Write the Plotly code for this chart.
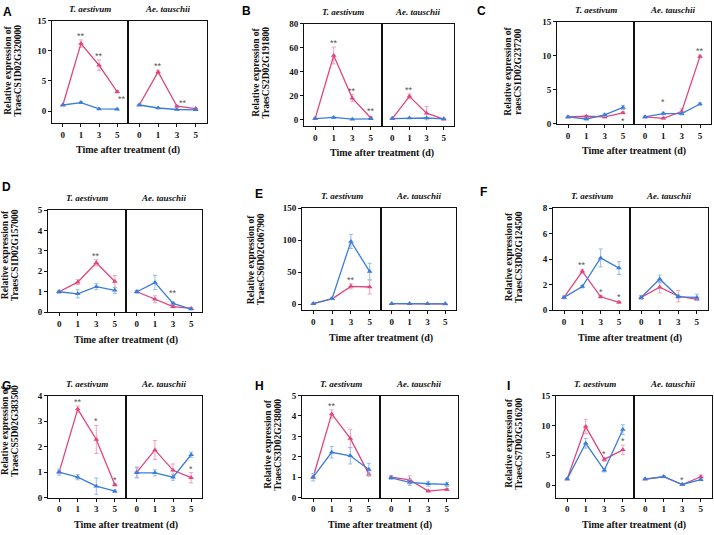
import plotly.graph_objects as go

W, H = 714, 535
PINK = '#E0457E'
BLUE = '#3B7DDB'
PINK_ERR = '#F0A0BE'
BLUE_ERR = '#93BBEE'
STAR = '#555555'
SERIF = 'Liberation Serif, Times New Roman, Tinos, DejaVu Serif, serif'
SANS = 'Liberation Sans, Arial, sans-serif'

# ---------------- data ----------------
time_labels = ['0', '1', '3', '5']
panel_letters = ['A', 'B', 'C', 'D', 'E', 'F', 'G', 'H', 'I']
species = ['T. aestivum', 'Ae. tauschii']
gene_ids = ['TraesCS1D02G320000', 'TraesCS2D02G191800', 'raesCS1D02G237200',
            'TraesCS1D02G157000', 'TraesCS6D02G067900', 'TraesCS3D02G124500',
            'TraesCS5D02G383500', 'TraesCS3D02G238000', 'TraesCS7D02G516200']

# T. aestivum, pink series
pink_aes = [[1.0, 11.2, 7.6, 3.2], [1.0, 53.5, 18.0, 1.5], [1.0, 1.1, 1.0, 1.6],
            [1.0, 1.47, 2.42, 1.5], [1.0, 8.5, 28.0, 27.0], [1.0, 3.05, 1.05, 0.62],
            [1.0, 3.47, 2.28, 0.5], [1.0, 4.1, 2.9, 1.15], [1.0, 9.8, 4.3, 5.9]]
pink_aes_err = [[0.1, 0.6, 0.9, 0.2], [0.5, 7.0, 3.0, 1.0], [0.1, 0.1, 0.15, 0.15],
                [0.05, 0.12, 0.15, 0.3], [0.5, 1.0, 4.0, 11.0], [0.1, 0.15, 0.1, 0.08],
                [0.05, 0.12, 0.55, 0.05], [0.05, 0.2, 0.45, 0.1], [0.1, 1.2, 0.3, 0.8]]
# T. aestivum, blue series
blue_aes = [[1.0, 1.4, 0.35, 0.3], [1.0, 2.0, 0.5, 0.8], [1.0, 0.7, 1.3, 2.4],
            [1.0, 0.9, 1.25, 1.07], [1.0, 9.0, 98.0, 51.0], [1.0, 1.85, 4.1, 3.3],
            [1.0, 0.8, 0.45, 0.25], [1.0, 2.22, 2.05, 1.38], [1.0, 7.0, 2.5, 9.3]]
blue_aes_err = [[0.1, 0.15, 0.1, 0.1], [0.3, 0.5, 0.3, 0.3], [0.1, 0.15, 0.25, 0.3],
                [0.08, 0.2, 0.15, 0.15], [0.5, 1.5, 11.0, 13.0], [0.1, 0.1, 0.7, 0.5],
                [0.12, 0.1, 0.32, 0.05], [0.18, 0.28, 0.4, 0.3], [0.1, 0.8, 0.3, 0.8]]
# Ae. tauschii, pink series
pink_tau = [[1.0, 6.5, 0.8, 0.4], [1.0, 19.5, 5.5, 0.5], [1.0, 0.8, 1.8, 9.9],
            [1.0, 0.63, 0.27, 0.18], [1.0, 1.0, 1.0, 0.5], [1.0, 1.8, 1.1, 0.85],
            [1.0, 1.87, 1.07, 0.78], [1.0, 0.87, 0.32, 0.4], [1.0, 1.4, 0.1, 1.4]]
pink_tau_err = [[0.1, 0.3, 0.1, 0.05], [0.5, 2.0, 5.5, 0.3], [0.1, 0.1, 0.4, 0.2],
                [0.05, 0.17, 0.05, 0.03], [0.3, 0.3, 0.3, 0.3], [0.1, 0.45, 0.45, 0.1],
                [0.2, 0.37, 0.25, 0.2], [0.08, 0.2, 0.05, 0.05], [0.1, 0.1, 0.1, 0.3]]
# Ae. tauschii, blue series
blue_tau = [[1.0, 0.5, 0.25, 0.2], [1.0, 1.5, 1.5, 0.8], [1.0, 1.5, 1.5, 2.9],
            [1.0, 1.45, 0.43, 0.15], [1.0, 1.0, 1.0, 0.8], [1.0, 2.45, 1.05, 1.0],
            [0.97, 0.97, 0.8, 1.68], [0.97, 0.75, 0.68, 0.65], [1.0, 1.4, 0.1, 0.9]]
blue_tau_err = [[0.1, 0.1, 0.05, 0.05], [0.3, 0.3, 0.3, 0.3], [0.1, 0.2, 0.2, 0.15],
                [0.08, 0.35, 0.05, 0.03], [0.3, 0.3, 0.3, 0.3], [0.15, 0.3, 0.15, 0.25],
                [0.2, 0.12, 0.12, 0.1], [0.08, 0.15, 0.12, 0.1], [0.1, 0.15, 0.1, 0.15]]

# significance marks: (panel, species half, time index, mark, series it sits on)
significance = [
    (0, 0, 1, '**', 'pink'), (0, 0, 2, '**', 'pink'), (0, 0, 3, '**', 'pink'),
    (0, 1, 1, '**', 'pink'), (0, 1, 2, '**', 'pink'),
    (1, 0, 1, '**', 'pink'), (1, 0, 2, '**', 'pink'), (1, 0, 3, '**', 'pink'),
    (1, 1, 1, '**', 'pink'),
    (2, 0, 3, '*', 'pink'), (2, 1, 1, '*', 'blue'), (2, 1, 3, '**', 'pink'),
    (3, 0, 2, '**', 'pink'), (3, 1, 2, '**', 'blue'),
    (4, 0, 2, '**', 'pink'),
    (5, 0, 1, '**', 'pink'), (5, 0, 2, '*', 'pink'), (5, 0, 3, '*', 'pink'),
    (6, 0, 1, '**', 'pink'), (6, 0, 2, '*', 'pink'), (6, 0, 3, '*', 'pink'),
    (6, 1, 3, '*', 'pink'),
    (7, 0, 1, '**', 'pink'),
    (8, 0, 2, '*', 'pink'), (8, 0, 3, '*', 'pink'), (8, 1, 2, '*', 'pink'),
]

# ---------------- layout geometry (pixels) ----------------
# left, right, top, bottom, divider
geom = [(52, 207, 16, 120, 128), (304, 454, 19, 123, 382), (557, 711, 17, 121, 634),
        (48, 202, 209, 313, 126), (302, 456, 207, 311, 381), (553, 708, 207, 311, 630),
        (48, 202, 398, 502, 126), (302, 458, 398, 502, 380), (556, 712, 398, 502, 634)]
y_ranges = [(-1.95, 15), (-4.9, 80), (0, 15), (0, 5), (-9.2, 150), (0, 8), (0, 4), (0, 5), (-2.1, 15)]
y_dticks = [5, 20, 5, 1, 50, 2, 1, 1, 5]
letter_pos = [(7, 7), (246, 6), (481, 6), (6, 185), (259, 193), (483, 191), (6, 388), (259, 388), (508, 388)]
ytitle_pos = [(13, 67), (261, 69), (513, 68), (10, 255), (256, 259), (514, 257), (10, 434), (273, 448), (514, 447)]
# special offsets for some marks (dx, dy) in px
star_offsets = {(0, 0, 3): (5, -12), (0, 1, 2): (6, -1), (2, 0, 3): (0, -13), (2, 1, 1): (0, 6),
                (3, 1, 2): (0, 5), (1, 0, 3): (0, 2)}


def px(x):
    return x / W


def py(y):
    return 1 - y / H


fig = go.Figure()
layout = {}
annotations = []

series_sets = [
    (pink_aes, pink_aes_err, blue_aes, blue_aes_err),
    (pink_tau, pink_tau_err, blue_tau, blue_tau_err),
]

for p in range(9):
    L, R, T, B, D = geom[p]
    for h in range(2):
        idx = 2 * p + h + 1
        xn = 'x' if idx == 1 else f'x{idx}'
        yn = 'y' if idx == 1 else f'y{idx}'
        xkey = 'xaxis' if idx == 1 else f'xaxis{idx}'
        ykey = 'yaxis' if idx == 1 else f'yaxis{idx}'
        x0, x1 = (L, D) if h == 0 else (D, R)
        layout[xkey] = dict(
            domain=[px(x0), px(x1)], anchor=yn, range=[-0.6, 3.6],
            tickvals=[0, 1, 2, 3], ticktext=time_labels,
            showline=True, mirror=True, linecolor='#111111', linewidth=1,
            ticks='outside', ticklen=3, tickwidth=1, tickcolor='#111111',
            tickfont=dict(family=SERIF, size=9, color='#111111', weight='bold'),
            showgrid=False, zeroline=False, fixedrange=True)
        layout[ykey] = dict(
            domain=[py(B), py(T)], anchor=xn, range=list(y_ranges[p]),
            dtick=y_dticks[p], tick0=0,
            showline=True, mirror=True, linecolor='#111111', linewidth=1,
            ticks='outside' if h == 0 else '', ticklen=3, tickwidth=1, tickcolor='#111111',
            showticklabels=(h == 0),
            tickfont=dict(family=SERIF, size=9, color='#111111', weight='bold'),
            showgrid=False, zeroline=False, fixedrange=True)

        pm, pe, bm, be = series_sets[h]
        fig.add_trace(go.Scatter(
            x=[0, 1, 2, 3], y=pm[p], xaxis=xn, yaxis=yn, mode='lines+markers',
            line=dict(color=PINK, width=1.3),
            marker=dict(symbol='triangle-up', size=5, color=PINK),
            error_y=dict(type='data', array=pe[p], color=PINK_ERR, thickness=1, width=2),
            showlegend=False, hoverinfo='skip'))
        fig.add_trace(go.Scatter(
            x=[0, 1, 2, 3], y=bm[p], xaxis=xn, yaxis=yn, mode='lines+markers',
            line=dict(color=BLUE, width=1.3),
            marker=dict(symbol='triangle-up', size=5, color=BLUE),
            error_y=dict(type='data', array=be[p], color=BLUE_ERR, thickness=1, width=2),
            showlegend=False, hoverinfo='skip'))

        # species subtitle
        annotations.append(dict(
            xref='paper', yref='paper', x=px((x0 + x1) / 2), y=py(T - 12),
            text=species[h], showarrow=False, xanchor='center', yanchor='middle',
            font=dict(family=SERIF, size=9, color='#111111', style='italic', weight='bold')))

    # panel letter
    lx, ly = letter_pos[p]
    annotations.append(dict(
        xref='paper', yref='paper', x=px(lx), y=py(ly), text=panel_letters[p],
        showarrow=False, xanchor='center', yanchor='middle',
        font=dict(family=SANS, size=12, color='#000000', weight='bold')))
    # y title (two lines)
    tx, ty = ytitle_pos[p]
    for k, line in enumerate(['Relative expression of', gene_ids[p]]):
        annotations.append(dict(
            xref='paper', yref='paper', x=px(tx - 5 + 10 * k), y=py(ty), text=line,
            showarrow=False, textangle=-90, xanchor='center', yanchor='middle',
            font=dict(family=SERIF, size=9.5, color='#111111', weight='bold')))
    # x title
    annotations.append(dict(
        xref='paper', yref='paper', x=px(D), y=py(B + 28), text='Time after treatment (d)',
        showarrow=False, xanchor='center', yanchor='middle',
        font=dict(family=SERIF, size=10, color='#111111', weight='bold')))

for (p, h, ti, mark, ser) in significance:
    idx = 2 * p + h + 1
    xn = 'x' if idx == 1 else f'x{idx}'
    yn = 'y' if idx == 1 else f'y{idx}'
    pm, pe, bm, be = series_sets[h]
    if ser == 'pink':
        yv = pm[p][ti] + pe[p][ti]
    else:
        yv = bm[p][ti] + be[p][ti]
    dx, dy = star_offsets.get((p, h, ti), (0, 0))
    annotations.append(dict(
        xref=xn, yref=yn, x=ti, y=yv, text=mark, showarrow=False,
        xanchor='center', yanchor='bottom', xshift=dx, yshift=-3 + dy,
        font=dict(family=SANS, size=9, color=STAR)))

fig.update_layout(
    width=W, height=H, margin=dict(l=0, r=0, t=0, b=0),
    paper_bgcolor='white', plot_bgcolor='white',
    font=dict(family=SERIF),
    annotations=annotations, showlegend=False, **layout)

fig.write_html('out.html', config={'displayModeBar': False, 'staticPlot': True},
               post_script="document.body.style.margin='0px';document.body.style.padding='0px';document.body.style.overflow='hidden';")
